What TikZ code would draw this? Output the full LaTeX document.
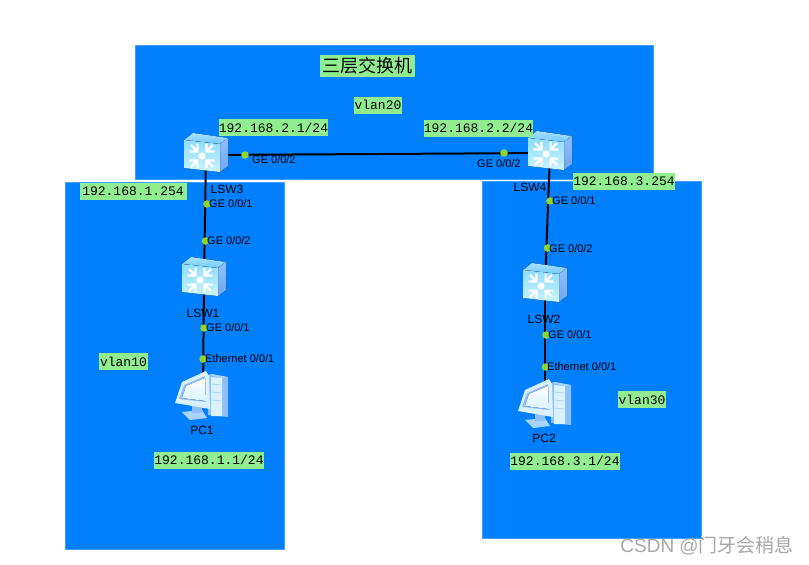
\documentclass[tikz,border=0pt]{standalone}
\usepackage{fontspec}
\setmainfont{Liberation Sans}
\setmonofont{Liberation Mono}
\newfontfamily\cjkfont{Noto Sans CJK SC}
\definecolor{zone}{HTML}{0080FF}
\definecolor{zoneedge}{HTML}{3F9FFF}
\definecolor{tagbg}{HTML}{90EE90}
\definecolor{portdot}{HTML}{8FD62E}
\definecolor{mark}{HTML}{A8A8A8}
\definecolor{faceA}{HTML}{C8F4FF}
\definecolor{faceB}{HTML}{8FDCFF}
\definecolor{topA}{HTML}{A8E4FF}
\definecolor{topB}{HTML}{6FC8FF}
\definecolor{sideA}{HTML}{8FC0FF}
\definecolor{sideB}{HTML}{6FA6F5}
\definecolor{pcA}{HTML}{D8F2FF}
\definecolor{pcB}{HTML}{A8D4FF}
\definecolor{pcC}{HTML}{8FBEFF}
\tikzset{
  zonebox/.style={fill=zone,draw=zoneedge,line width=.6pt},
  tag/.style={fill=tagbg,inner sep=0pt,minimum height=17pt,font=\fontsize{13}{13}\selectfont\ttfamily,text=black},
  port/.style={font=\fontsize{11}{11}\selectfont,text=black,inner sep=0pt,anchor=west},
  devname/.style={font=\fontsize{12}{12}\selectfont,text=black,inner sep=0pt},
  dot/.style={circle,fill=portdot,inner sep=0pt,minimum size=7.5pt},
  anchorbox/.style={inner sep=0pt,minimum size=1pt},
  link/.style={line width=2pt,black},
  switchicon/.pic={
    \fill[top color=topA,bottom color=topB] (-22,-15) -- (-13,-22) -- (22,-17) -- (14,-11) -- cycle;
    \fill[top color=sideA,bottom color=sideB] (14,-11) -- (22,-17) -- (22,11) -- (14,17) -- cycle;
    \fill[top color=faceB,bottom color=faceA] (-22,-15) -- (14,-11) -- (14,17) -- (-22,13) -- cycle;
    \begin{scope}[shift={(-4,1)}]
      \fill[white] (0,0) circle (3.6);
      \foreach \a in {45,135,225,315}{
        \begin{scope}[rotate=\a]
          \draw[white,line width=2.4pt] (6.5,0) -- (15.5,0);
          \draw[white,line width=2.2pt] (12,-5.5) -- (6.5,0) -- (12,5.5);
        \end{scope}
      }
    \end{scope}
  },
  pcicon/.pic={
    \fill[pcC] (8,-21) -- (28,-19) -- (28,21) -- (8,19) -- cycle;
    \fill[pcB] (8,-21) -- (12,-22) -- (28,-19) -- (22,-18) -- cycle;
    \fill[pcA] (11,-19) -- (22,-18) -- (22,20) -- (11,20) -- cycle;
    \draw[pcB,line width=.8pt] (12,-12) -- (21,-11) (12,-4) -- (21,-3) (12,4) -- (21,5);
    \fill[pcB] (-18,16) -- (2,14) -- (7,22) -- (-10,24) -- cycle;
    \fill[pcC] (-8,8) -- (2,8) -- (2,17) -- (-8,17) -- cycle;
    \fill[pcA] (-18,-14) -- (6,-25) -- (9,-20) -- (10,13) -- (-25,7) -- cycle;
    \fill[pcC] (-16,-11) -- (5,-20) -- (6,6) -- (-21,3) -- cycle;
    \fill[top color=white,bottom color=pcA] (-14,-10) -- (5,-18) -- (6,5) -- (-18,2) -- cycle;
  }
}
\begin{document}
\begin{tikzpicture}[x=1pt,y=-1pt]
\useasboundingbox (0,0) rectangle (809,565);
\fill[white] (0,0) rectangle (809,565);
% zones
\draw[zonebox] (135,45) rectangle (653,179);
\draw[zonebox] (65,182) rectangle (284,549);
\draw[zonebox] (482,181) rectangle (701,538);
% device anchors
\node[anchorbox] (lsw3) at (206,155) {};
\node[anchorbox] (lsw4) at (550,153) {};
\node[anchorbox] (lsw1) at (204,279) {};
\node[anchorbox] (lsw2) at (545,285) {};
\node[anchorbox] (pc1) at (203,397) {};
\node[anchorbox] (pc2) at (545,405) {};
% connectors
\draw[link] (lsw3) -- (lsw4);
\draw[link] (lsw3) -- (lsw1);
\draw[link] (lsw1) -- (pc1);
\draw[link] (lsw4) -- (lsw2);
\draw[link] (lsw2) -- (pc2);
% icons
\pic at (lsw3) {switchicon};
\pic at (lsw4) {switchicon};
\pic at (lsw1) {switchicon};
\pic at (lsw2) {switchicon};
\pic at (200,396) {pcicon};
\pic at (543,404) {pcicon};
% port dots
\node[dot] (d1) at (245,155) {};
\node[dot] (d2) at (504,153) {};
\node[dot] (d3) at (207,204) {};
\node[dot] (d4) at (205.5,241) {};
\node[dot] (d5) at (204,328) {};
\node[dot] (d6) at (203,359) {};
\node[dot] (d7) at (550,201) {};
\node[dot] (d8) at (547.5,248) {};
\node[dot] (d9) at (546,335) {};
\node[dot] (d10) at (545.5,367) {};
% port labels
\node[port] (p1) at (252,160) {GE 0/0/2};
\node[port] (p2) at (477,164) {GE 0/0/2};
\node[port] (p3) at (209,204) {GE 0/0/1};
\node[port] (p4) at (207,241) {GE 0/0/2};
\node[port] (p5) at (206,328) {GE 0/0/1};
\node[port] (p6) at (205,359) {Ethernet 0/0/1};
\node[port] (p7) at (552,201) {GE 0/0/1};
\node[port] (p8) at (549,249) {GE 0/0/2};
\node[port] (p9) at (548,335) {GE 0/0/1};
\node[port] (p10) at (547,367) {Ethernet 0/0/1};
% device names
\node[devname] (n3) at (227,189) {LSW3};
\node[devname] (n4) at (530,187) {LSW4};
\node[devname] (n1) at (203,313) {LSW1};
\node[devname] (n2) at (544,319) {LSW2};
\node[devname] (n5) at (202,430) {PC1};
\node[devname] (n6) at (544,438) {PC2};
% address tags
\node[tag,minimum width=109pt] (t1) at (273.5,127.5) {192.168.2.1/24};
\node[tag,minimum width=109pt] (t2) at (478.5,128) {192.168.2.2/24};
\node[tag,minimum width=107pt] (t3) at (133,191.5) {192.168.1.254};
\node[tag,minimum width=102pt] (t4) at (624,181) {192.168.3.254};
\node[tag,minimum width=48pt] (t5) at (378,105) {vlan20};
\node[tag,minimum width=49pt] (t6) at (123.5,361.5) {vlan10};
\node[tag,minimum width=48pt] (t7) at (642,399.5) {vlan30};
\node[tag,minimum width=110pt] (t8) at (209,460) {192.168.1.1/24};
\node[tag,minimum width=110pt] (t9) at (565,461) {192.168.3.1/24};
\node[fill=tagbg,inner sep=0pt,minimum width=95pt,minimum height=22pt,font=\fontsize{18}{18}\selectfont\cjkfont,text=black] (title) at (367.5,66) {三层交换机};
% watermark
\node[inner sep=0pt,anchor=east,text=mark,font=\fontsize{19}{19}\selectfont] (wm) at (794,546) {CSDN @{\cjkfont 门牙会稍息}};
\end{tikzpicture}
\end{document}
